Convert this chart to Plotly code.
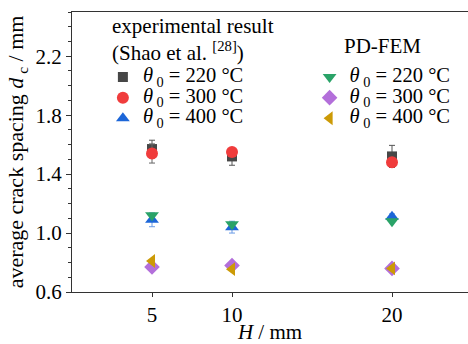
import plotly.graph_objects as go

H = [5, 10, 20]
exp_220 = [1.57, 1.52, 1.52]
exp_220_err = [0.06, 0.06, 0.075]
exp_300 = [1.54, 1.55, 1.48]
exp_300_err = [0.065, 0.02, 0.02]
exp_400 = [1.09, 1.04, 1.11]
exp_400_err = [0.047, 0.04, 0.02]
fem_220 = [1.12, 1.06, 1.08]
fem_300 = [0.77, 0.78, 0.76]
fem_400 = [0.81, 0.755, 0.76]

y_ticks = [0.6, 1.0, 1.4, 1.8, 2.2]
x_ticks = [5, 10, 20]

FONT = "Liberation Serif, Times New Roman, Times, serif"


def lab(t):
    return "<span style='font-size:20.5px'><i>θ</i><sub> 0</sub> = " + t + " °C</span>"


fig = go.Figure()

series = [
    (exp_220, exp_220_err, "square", "#474747", 10, "#555555", "legend", "220"),
    (exp_300, exp_300_err, "circle", "#f03c3c", 12, "#666666", "legend", "300"),
    (exp_400, exp_400_err, "triangle-up", "#1c66d8", 12, "#6a9be6", "legend", "400"),
    (fem_220, None, "triangle-down", "#2aa368", 12, None, "legend2", "220"),
    (fem_300, None, "diamond", "#b36fda", 12, None, "legend2", "300"),
    (fem_400, None, "triangle-left", "#cc9a06", 12, None, "legend2", "400"),
]

for ys, err, sym, col, sz, ecol, lg, t in series:
    kw = {}
    if err is not None:
        kw["error_y"] = dict(type="data", array=err, visible=True, color=ecol,
                             thickness=1, width=3)
    fig.add_trace(go.Scatter(
        x=H, y=ys, mode="markers", name=lab(t), legend=lg,
        marker=dict(symbol=sym, size=sz, color=col, line=dict(width=0)),
        **kw))

legend_common = dict(
    xanchor="left", yanchor="top",
    bgcolor="rgba(0,0,0,0)", borderwidth=0,
    font=dict(family=FONT, size=13.5, color="black"),
    tracegroupgap=0, itemsizing="trace",
)

fig.update_layout(
    width=468, height=344,
    margin=dict(l=72, r=0, t=12, b=52),
    paper_bgcolor="white", plot_bgcolor="white",
    font=dict(family=FONT, size=20, color="black"),
    showlegend=True,
    legend=dict(x=0.078, y=0.822, **legend_common),
    legend2=dict(x=0.6, y=0.822, **legend_common),
    annotations=[
        dict(text="experimental result<br>(Shao et al. <sup>[28]</sup>)",
             xref="paper", yref="paper", x=0.096, y=1.0,
             xanchor="left", yanchor="top", align="left", showarrow=False,
             font=dict(family=FONT, size=21, color="black")),
        dict(text="PD-FEM",
             xref="paper", yref="paper", x=0.785, y=0.88,
             xanchor="center", yanchor="middle", showarrow=False,
             font=dict(family=FONT, size=21, color="black")),
    ],
)

fig.update_xaxes(
    range=[0, 24.75], tickvals=x_ticks, ticktext=[str(v) for v in x_ticks],
    showgrid=False, zeroline=False,
    showline=True, linecolor="#333333", linewidth=1.3, mirror=True,
    ticks="outside", ticklen=4, tickwidth=1.2, tickcolor="#333333",
    tickfont=dict(family=FONT, size=21, color="black"),
    title=dict(text="<i>H</i> / mm", font=dict(family=FONT, size=21, color="black"),
               standoff=3),
)
fig.update_yaxes(
    range=[0.6, 2.5], tickvals=y_ticks, ticktext=["%.1f" % v for v in y_ticks],
    showgrid=False, zeroline=False,
    showline=True, linecolor="#333333", linewidth=1.3, mirror=False,
    ticks="outside", ticklen=5, tickwidth=1.2, tickcolor="#333333",
    minor=dict(dtick=0.1, tick0=0.6, ticks="outside", ticklen=3, tickwidth=1,
               tickcolor="#333333", showgrid=False),
    tickfont=dict(family=FONT, size=21, color="black"),
    title=dict(text="average crack spacing <i>d</i><sub> c</sub> / mm",
               font=dict(family=FONT, size=22, color="black"), standoff=5),
)

fig.write_html("out.html")
